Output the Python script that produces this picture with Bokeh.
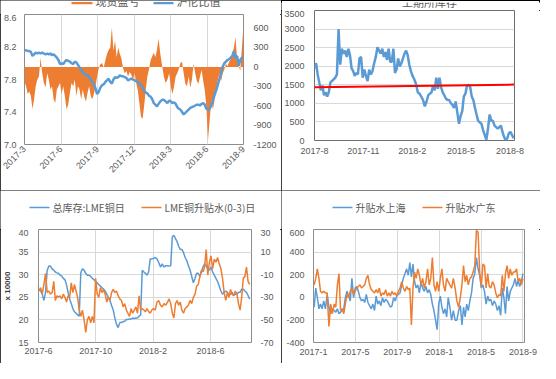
import math
import pandas as pd
from bokeh.plotting import figure
from bokeh.models import Range1d, LinearAxis, FixedTicker, Label, BoxAnnotation
from bokeh.layouts import column, row
from bokeh.embed import file_html
from bokeh.resources import INLINE

# ---------------- data ----------------
# Panel 1 (top-left): import profit (right axis, area) and SHFE/LME ratio (left axis)
TL_START, TL_END = "2017-03-01", "2018-09-01"
TL_X_LABELS = ["2017-3", "2017-6", "2017-9", "2017-12", "2018-3", "2018-6", "2018-9"]
TL_LEFT_TICKS = [7.0, 7.4, 7.8, 8.2, 8.6]
TL_LEFT_LABELS = ["7.0", "7.4", "7.8", "8.2", "8.6"]
TL_RIGHT_TICKS = [-1200, -900, -600, -300, 0, 300, 600]
TL_RIGHT_LABELS = ["-1200", "-900", "-600", "-300", "0", "300", "600"]
TL_PROFIT = [-230, -300, -420, -380, -450, -650, -500, -300, -200, -150,
             140, -100, -250, -320, -100, -200, -350, -300, -500, -560,
             -350, -300, -250, -420, -300, -460, -660, -580, -400, -250,
             -300, -200, -450, -300, -350, -500, -350, -460, -540, -400,
             -300, -450, -500, -420, -300, -150, -20, 40, 60, -10,
             100, 200, 260, 300, 610, 250, 410, 150, 300, 200,
             130, -20, -100, -60, -150, -80, -120, -200, -100, -250,
             -360, -560, -770, -800, -600, -350, -150, -40, 100, 160,
             220, 150, 260, 440, 200, 20, -150, -250, -200, -100,
             -320, -420, -300, -150, -100, -30, 60, 80, -100, -260,
             -300, -150, -320, -200, 50, -100, -220, -260, -150, -50,
             -220, -360, -620, -1130, -820, -500, -660, -500, -320, -200,
             -100, -220, -100, -40, 50, 10, 80, 120, 200, 300,
             460, 120, 10, -60, 300, 650]
TL_RATIO = [8.16, 8.16, 8.15, 8.15, 8.14, 8.09, 8.11, 8.13, 8.12, 8.13,
            8.12, 8.13, 8.12, 8.11, 8.12, 8.11, 8.12, 8.10, 8.11, 8.09,
            8.07, 8.04, 7.99, 8.00, 7.99, 8.02, 8.04, 8.03, 8.02, 8.00,
            7.99, 8.02, 8.01, 7.98, 7.95, 7.92, 7.89, 7.87, 7.85, 7.86,
            7.83, 7.80, 7.77, 7.74, 7.69, 7.62, 7.65, 7.70, 7.73, 7.74,
            7.77, 7.79, 7.81, 7.77, 7.75, 7.80, 7.83, 7.82, 7.83, 7.85,
            7.84, 7.84, 7.83, 7.82, 7.79, 7.80, 7.81, 7.80, 7.79, 7.78,
            7.77, 7.75, 7.73, 7.70, 7.66, 7.64, 7.63, 7.60, 7.59, 7.56,
            7.51, 7.49, 7.47, 7.50, 7.53, 7.55, 7.55, 7.53, 7.51, 7.54,
            7.53, 7.51, 7.52, 7.50, 7.46, 7.44, 7.43, 7.40, 7.37, 7.39,
            7.41, 7.43, 7.45, 7.46, 7.47, 7.48, 7.49, 7.49, 7.48, 7.50,
            7.51, 7.49, 7.44, 7.43, 7.44, 7.48, 7.55, 7.61, 7.67, 7.74,
            7.81, 7.88, 7.96, 8.00, 8.02, 8.04, 8.05, 8.07, 8.09, 8.15,
            8.07, 8.09, 7.97, 8.04, 8.07, 8.07]
TL_LEGEND = ["现货盈亏", "沪伦比值"]

# Panel 2 (top-right): stock line with trend line
TR_START, TR_END = "2017-08-01", "2018-08-08"
TR_X_LABELS = ["2017-8", "2017-11", "2018-2", "2018-5", "2018-8"]
TR_Y_TICKS = [0, 500, 1000, 1500, 2000, 2500, 3000, 3500]
TR_Y_LABELS = ["0", "500", "1000", "1500", "2000", "2500", "3000", "3500"]
TR_STOCK = [1950, 2080, 1780, 1565, 1350, 1480, 1220, 1300, 1180, 1300,
            1565, 1600, 1650, 1690, 1780, 3000, 2040, 2470, 2340, 2420,
            2250, 2470, 2300, 1950, 1870, 1740, 1820, 1780, 2210, 2250,
            1690, 1910, 1740, 1600, 1910, 1780, 1870, 2080, 2250, 2510,
            2420, 2340, 2470, 2250, 2380, 2170, 2470, 2120, 2120, 2470,
            1820, 1910, 2210, 1990, 2080, 2210, 2340, 2420, 2300, 2040,
            1870, 1740, 1650, 1520, 1300, 1260, 1180, 1090, 920, 1050,
            1220, 1260, 1300, 1480, 1350, 1690, 1390, 1690, 1440, 1300,
            1220, 1130, 1090, 1090, 1010, 960, 880, 1050, 750, 450,
            660, 790, 1180, 1260, 1480, 1500, 1440, 1180, 1090, 880,
            700, 530, 490, 450, 280, 150, 20, 320, 700, 530,
            530, 400, 360, 320, 360, 400, 230, 100, 0, 60,
            190, 230, 150, 60]
TR_TREND_DATES = ["2017-08-01", "2018-08-09"]
TR_TREND = [1435, 1505]
TR_TITLE = "上期所库存"

# Panel 3 (bottom-left): LME total stock (left, x10000) and LME 0-3 spread (right)
BL_START, BL_END = "2017-06-02", "2018-08-24"
BL_X_LABELS = ["2017-6", "2017-10", "2018-2", "2018-6"]
BL_LEFT_TICKS = [15, 20, 25, 30, 35, 40]
BL_LEFT_LABELS = ["15", "20", "25", "30", "35", "40"]
BL_RIGHT_TICKS = [-70, -50, -30, -10, 10, 30]
BL_RIGHT_LABELS = ["-70", "-50", "-30", "-10", "10", "30"]
BL_STOCK = [26.7, 26.4, 25.7, 24.3, 26.1, 31.0, 31.9, 31.9, 31.3, 31.0,
            30.6, 30.4, 30.3, 29.9, 29.7, 29.2, 28.9, 27.8, 26.1, 24.6,
            23.6, 22.5, 21.8, 21.5, 21.1, 20.8, 30.5, 31.3, 31.0, 30.3,
            29.9, 29.9, 29.6, 29.2, 28.9, 28.5, 28.2, 27.8, 27.5, 27.1,
            26.8, 26.4, 25.7, 25.0, 24.3, 23.2, 22.2, 20.4, 19.0, 18.3,
            19.4, 19.4, 19.6, 19.7, 20.1, 20.1, 20.2, 20.2, 20.4, 20.3,
            20.4, 20.4, 20.8, 21.1, 31.0, 30.6, 30.3, 29.9, 30.6, 33.5,
            33.5, 33.6, 33.8, 33.5, 32.7, 31.7, 32.4, 31.7, 32.0, 32.0,
            31.9, 32.0, 38.4, 38.7, 38.0, 37.3, 36.3, 35.6, 35.6, 34.9,
            33.8, 33.1, 32.0, 31.0, 29.6, 28.2, 29.2, 30.3, 30.3, 29.6,
            30.6, 31.7, 32.4, 32.0, 31.3, 31.0, 31.7, 30.6, 29.9, 29.2,
            28.5, 27.5, 26.4, 25.7, 26.1, 26.4, 26.1, 25.4, 25.7, 26.1,
            25.4, 25.7, 25.7, 26.1, 26.1, 26.8, 26.8, 26.4, 26.1, 25.4,
            24.6]
BL_SPREAD = [-24.4, -21.5, -27.0, -18.7, -8.9, -25.8, -24.4, -27.2, -25.8, -15.9,
             -32.8, -28.6, -30.0, -28.6, -31.4, -27.2, -30.0, -34.2, -28.6, -30.0,
             -17.3, -25.8, -18.7, -24.4, -30.0, -41.3, -46.9, -41.3, -49.7, -61.0,
             -49.7, -46.9, -52.5, -46.9, -52.5, -13.1, -27.2, -30.0, -21.5, -25.8,
             -23.0, -27.2, -34.2, -30.0, -32.8, -25.8, -23.0, -25.8, -24.4, -28.6,
             -31.4, -32.8, -38.5, -35.6, -41.3, -44.1, -46.9, -39.9, -44.1, -41.3,
             -38.5, -44.1, -28.6, -41.3, -39.9, -41.3, -42.7, -39.9, -42.7, -44.1,
             -41.3, -39.9, -41.3, -34.2, -32.8, -37.0, -38.5, -35.6, -37.0, -34.2,
             -31.4, -35.6, -44.1, -48.3, -35.6, -32.8, -37.0, -34.2, -41.3, -44.1,
             -39.9, -38.5, -37.0, -32.8, -35.6, -30.0, -27.2, -20.1, -18.7, -11.7,
             -6.1, -7.5, -3.2, 12.3, -10.3, 1.0, 6.6, -4.6, 3.8, 1.0,
             5.2, -0.4, -4.6, -13.1, -25.8, -32.8, -25.8, -30.0, -23.0, -27.2,
             -28.6, -24.4, -27.2, -35.6, -41.3, -30.0, -13.1, -11.7, -3.2, -15.9,
             -18.7]
BL_LEGEND = ["总库存:LME铜日", "LME铜升贴水(0-3)日"]
BL_Y_TITLE = "x 10000"

# Panel 4 (bottom-right): premiums Shanghai / Guangdong
BR_START, BR_END = "2017-01-03", "2018-09-01"
BR_X_LABELS = ["2017-1", "2017-5", "2017-9", "2018-1", "2018-5", "2018-9"]
BR_Y_TICKS = [-400, -200, 0, 200, 400, 600]
BR_Y_LABELS = ["-400", "-200", "0", "200", "400", "600"]
BR_SH = [-88, 82, -3, -102, -60, -102, -32, -102, 25, -88,
         -145, -102, -117, -131, -102, -145, -131, -117, -102, -3,
         53, 11, -32, 167, -3, 82, 96, 53, -3, -32,
         -18, -46, 25, -46, -74, -102, -60, -117, 11, -60,
         -32, -74, -3, -46, -18, -32, -60, -88, -74, -3,
         -32, 11, 25, 39, 110, 167, 209, 252, 195, 308,
         181, 294, 138, 82, 110, 39, 138, 82, 53, 96,
         39, 68, 25, -60, -117, -202, -287, -60, 11, -88,
         -145, -102, -173, -3, -88, -202, -117, -202, -202, -117,
         -74, -244, -88, -173, -60, -117, -32, 39, 167, 209,
         351, 252, 195, 82, 110, 53, -60, 11, -32, -18,
         -74, -32, -60, -117, -74, -159, 82, -3, -145, 96,
         -32, 53, 82, 110, 167, 96, 153, 96, 138, 209]
BR_GD = [110, 167, 252, 167, 53, 39, 53, 39, 39, -258,
         -60, -145, -60, -88, 110, 209, -117, -102, -145, -60,
         25, -3, 53, 82, 25, 53, 82, 96, 110, 82,
         96, 110, 167, 195, 110, 68, 53, 39, 68, 39,
         82, 11, 39, 25, 68, 11, 39, 11, 53, 25,
         39, 11, 53, 82, 138, 82, 53, 96, 68, 82,
         -244, 82, 223, 167, 252, 195, 110, 167, 82, 138,
         252, 110, 167, 351, 110, 53, 138, 53, 167, 252,
         110, 53, 167, 138, 110, 82, 167, 82, -32, -88,
         -3, 110, 280, 138, 195, 110, 167, 181, 223, 280,
         592, 577, 223, 96, 294, 280, 82, 209, 96, 82,
         138, 110, 39, -3, 25, 11, 195, 53, 209, 280,
         167, 252, 195, 223, 223, 252, 138, 167, 110, 167]
BR_LEGEND = ["升贴水上海", "升贴水广东"]

# ---------------- styling ----------------
BLUE = "#5B9BD5"
ORANGE = "#ED7D31"
RED = "#FF0000"
TXT = "#595959"
GRID = "#D9D9D9"
FRAME = "#8C8C8C"
NUM_FONT = "Liberation Sans"
CJK_FONT = "Noto Sans CJK SC"
BOX = {"outline": "1px solid #000000", "outline-offset": "-1px"}


def to_months(dates):
    out = []
    for d in dates:
        frac = (d.day - 1 + d.hour / 24.0) / d.days_in_month
        out.append((d.year - 2017) * 12 + (d.month - 1) + frac)
    return out


def label_pos(labels):
    return to_months([pd.Timestamp(l + "-01") for l in labels])


def series_x(start, end, n):
    return to_months(pd.date_range(start, end, periods=n))


def base_fig(w, h, xr, yr, left, right, top, bottom):
    p = figure(width=w, height=h, x_range=Range1d(*xr), y_range=Range1d(*yr),
               output_backend="svg", toolbar_location=None, title=None,
               frame_align=False,
               min_border_left=left, min_border_right=right,
               min_border_top=top, min_border_bottom=bottom)
    p.outline_line_color = FRAME
    p.outline_line_width = 1
    p.background_fill_color = "white"
    p.border_fill_color = "white"
    p.xgrid.grid_line_color = GRID
    p.ygrid.grid_line_color = GRID
    return p


def header_fig(w, h):
    p = figure(width=w, height=h, x_range=Range1d(0, 1), y_range=Range1d(0, 1),
               output_backend="svg", toolbar_location=None, title=None,
               x_axis_location=None, y_axis_location=None, frame_align=False,
               min_border_left=0, min_border_right=0,
               min_border_top=0, min_border_bottom=0)
    p.outline_line_color = None
    p.background_fill_color = "white"
    p.border_fill_color = "white"
    p.grid.visible = False
    return p


def style_axis(ax, ticks, labels, standoff, size="9px"):
    ax.ticker = FixedTicker(ticks=[float(t) for t in ticks])
    ax.major_label_overrides = {float(t): l for t, l in zip(ticks, labels)}
    ax.axis_line_color = None
    ax.major_tick_line_color = None
    ax.minor_tick_line_color = None
    ax.major_tick_out = 0
    ax.major_tick_in = 0
    ax.major_label_standoff = standoff
    ax.major_label_text_font = NUM_FONT
    ax.major_label_text_font_size = size
    ax.major_label_text_color = TXT


def draw_key(p, labels, colors, line_x, line_y, text_y, lw, size="10px"):
    # line_x: list of (x0, x1) screen positions of the key samples
    for text, color, (x0, x1) in zip(labels, colors, line_x):
        p.add_layout(BoxAnnotation(left=x0, right=x1,
                                   bottom=line_y - lw / 2.0, top=line_y + lw / 2.0,
                                   left_units="screen", right_units="screen",
                                   bottom_units="screen", top_units="screen",
                                   fill_color=color, fill_alpha=1.0, line_color=None))
        p.add_layout(Label(x=x1 + 3, y=text_y, x_units="screen", y_units="screen",
                           text=text, text_font=CJK_FONT, text_font_size=size,
                           text_color=TXT, text_baseline="middle", text_align="left"))


# ---------------- panel 1 ----------------
h1 = header_fig(281, 14)
draw_key(h1, TL_LEGEND, [ORANGE, BLUE], [(71, 92), (153, 173)], 11.3, 13.8, 2.2, size="11px")

p1 = base_fig(281, 176, (2, 20), (7.0, 8.6), 24, 38, 0, 46)
p1.extra_y_ranges = {"r": Range1d(-1200, 810)}
p1.varea(x=series_x(TL_START, TL_END, len(TL_PROFIT)), y1=0, y2=TL_PROFIT,
         y_range_name="r", fill_color=ORANGE)
p1.line(series_x(TL_START, TL_END, len(TL_RATIO)), TL_RATIO,
        line_color=BLUE, line_width=2.5)
r1 = LinearAxis(y_range_name="r")
p1.add_layout(r1, "right")
style_axis(p1.xaxis[0], label_pos(TL_X_LABELS), TL_X_LABELS, 3)
p1.xaxis[0].major_label_orientation = math.pi / 4
style_axis(p1.yaxis[0], TL_LEFT_TICKS, TL_LEFT_LABELS, 8)
style_axis(r1, TL_RIGHT_TICKS, TL_RIGHT_LABELS, 10)
p1.xgrid.ticker = p1.xaxis[0].ticker
p1.ygrid.visible = False
q1 = column(h1, p1, styles=BOX)

# ---------------- panel 2 ----------------
h2 = header_fig(259, 10)
h2.add_layout(Label(x=148, y=11, x_units="screen", y_units="screen",
                    text=TR_TITLE, text_font=CJK_FONT, text_font_size="11px",
                    text_color=TXT, text_baseline="middle", text_align="center"))
p2 = base_fig(259, 180, (7, 19.28), (0, 3500), 33, 26, 0, 50)
p2.outline_line_color = "#6E6E6E"
p2.line(series_x(TR_START, TR_END, len(TR_STOCK)), TR_STOCK,
        line_color=BLUE, line_width=2.5)
p2.line(to_months([pd.Timestamp(d) for d in TR_TREND_DATES]), TR_TREND,
        line_color=RED, line_width=2)
style_axis(p2.xaxis[0], label_pos(TR_X_LABELS), TR_X_LABELS, 7)
style_axis(p2.yaxis[0], TR_Y_TICKS, TR_Y_LABELS, 10)
p2.ygrid.ticker = p2.yaxis[0].ticker
p2.xgrid.visible = False
q2 = column(h2, p2, styles=BOX)

# ---------------- panel 3 ----------------
h3 = header_fig(281, 39)
draw_key(h3, BL_LEGEND, [BLUE, ORANGE], [(29, 49), (141, 161)], 22, 22, 1.6)

p3 = base_fig(281, 134, (5, 19.87), (15, 40), 38, 30, 0, 21)
p3.extra_y_ranges = {"r": Range1d(-70, 30)}
p3.line(series_x(BL_START, BL_END, len(BL_STOCK)), BL_STOCK,
        line_color=BLUE, line_width=1.5)
p3.line(series_x(BL_START, BL_END, len(BL_SPREAD)), BL_SPREAD,
        line_color=ORANGE, line_width=1.5, y_range_name="r")
r3 = LinearAxis(y_range_name="r")
p3.add_layout(r3, "right")
style_axis(p3.xaxis[0], label_pos(BL_X_LABELS), BL_X_LABELS, 5)
style_axis(p3.yaxis[0], BL_LEFT_TICKS, BL_LEFT_LABELS, 10)
style_axis(r3, BL_RIGHT_TICKS, BL_RIGHT_LABELS, 9)
p3.yaxis[0].axis_label = BL_Y_TITLE
p3.yaxis[0].axis_label_text_font = NUM_FONT
p3.yaxis[0].axis_label_text_font_size = "8px"
p3.yaxis[0].axis_label_text_font_style = "bold"
p3.yaxis[0].axis_label_text_color = "#404040"
p3.yaxis[0].axis_label_standoff = 3
p3.xgrid.ticker = p3.xaxis[0].ticker
p3.ygrid.ticker = p3.yaxis[0].ticker
q3 = column(h3, p3, styles=BOX)

# ---------------- panel 4 ----------------
h4 = header_fig(259, 39)
draw_key(h4, BR_LEGEND, [BLUE, ORANGE], [(51, 71), (141, 161)], 22, 22, 1.6)

p4 = base_fig(259, 134, (0, 20.15), (-400, 600), 32, 16, 0, 21)
p4.line(series_x(BR_START, BR_END, len(BR_SH)), BR_SH,
        line_color=BLUE, line_width=1.5)
p4.line(series_x(BR_START, BR_END, len(BR_GD)), BR_GD,
        line_color=ORANGE, line_width=1.5)
style_axis(p4.xaxis[0], label_pos(BR_X_LABELS), BR_X_LABELS, 6)
style_axis(p4.yaxis[0], BR_Y_TICKS, BR_Y_LABELS, 9)
p4.xgrid.ticker = p4.xaxis[0].ticker
p4.ygrid.ticker = p4.yaxis[0].ticker
q4 = column(h4, p4, styles=BOX)

layout = column(row(q1, q2), row(q3, q4))
open("out.html", "w").write(file_html(layout, INLINE))
